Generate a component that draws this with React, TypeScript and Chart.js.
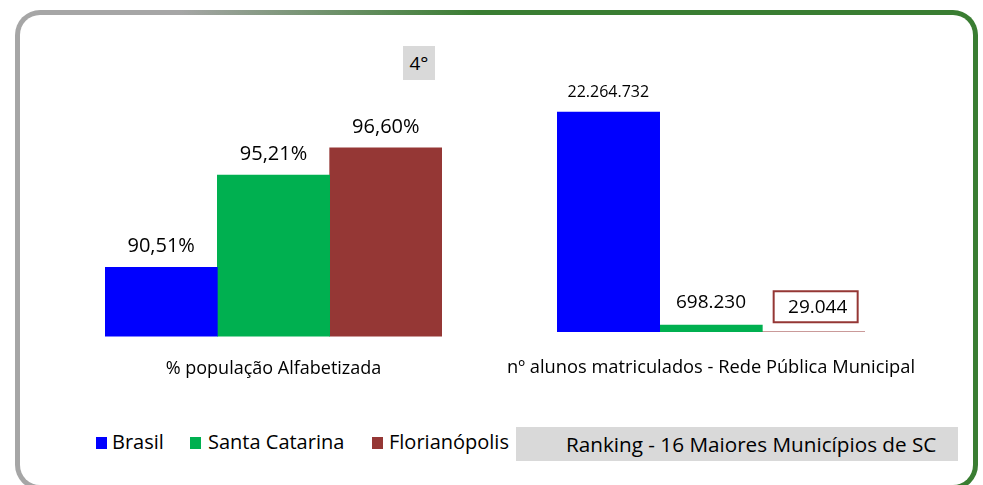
import React, { useEffect, useRef } from "react";
import { Chart, registerables } from "chart.js";

Chart.register(...registerables);

const seriesNames = ["Brasil", "Santa Catarina", "Florianópolis"];
const seriesColors = ["#0000FF", "#00B050", "#953735"];

const leftCategories = ["% população Alfabetizada"];
const literacyPct = [90.51, 95.21, 96.6];
const literacyLabels = ["90,51%", "95,21%", "96,60%"];

const rightCategories = ["nº alunos matriculados - Rede Pública Municipal"];
const enrolled = [22264732, 698230, 29044];
const enrolledLabels = ["22.264.732", "698.230", "29.044"];

const rankBadge = "4°";
const rankingText = "Ranking - 16 Maiores Municípios de SC";

const FONT = "'Open Sans', 'Noto Sans', sans-serif";

type LabelStyle = { size: number; offset: number; boxed?: boolean };

function makeLabelPlugin(labels: string[], styles: LabelStyle[]) {
  return {
    id: "valueLabels",
    afterDatasetsDraw(chart: any) {
      const ctx = chart.ctx;
      ctx.save();
      chart.data.datasets.forEach((_: any, i: number) => {
        const el = chart.getDatasetMeta(i).data[0];
        if (!el) return;
        const st = styles[i];
        const x = el.x;
        const y = el.y - st.offset;
        ctx.font = `${st.size}px ${FONT}`;
        ctx.fillStyle = "#000";
        ctx.textAlign = "center";
        ctx.textBaseline = "middle";
        if (st.boxed) {
          const w = 84;
          const h = 31;
          ctx.fillStyle = "#fff";
          ctx.fillRect(x - w / 2 + 2, y - h / 2, w, h);
          ctx.strokeStyle = "#953735";
          ctx.lineWidth = 2;
          ctx.strokeRect(x - w / 2 + 2, y - h / 2, w, h);
          ctx.fillStyle = "#000";
          ctx.fillText(labels[i], x + 4, y + 1);
        } else {
          ctx.fillText(labels[i], x, y);
        }
      });
      ctx.restore();
    },
  };
}

function BarChart(props: {
  categories: string[];
  values: number[];
  labels: string[];
  styles: LabelStyle[];
  min: number;
  max: number;
  padding: { left: number; right: number; top: number; bottom: number };
  tickGap: number;
  tickSize: number;
  left: number;
  width: number;
  height: number;
}) {
  const ref = useRef<HTMLCanvasElement>(null);
  useEffect(() => {
    if (!ref.current) return;
    const chart = new Chart(ref.current, {
      type: "bar",
      data: {
        labels: props.categories,
        datasets: seriesNames.map((name, i) => ({
          label: name,
          data: [props.values[i]],
          backgroundColor: seriesColors[i],
          borderWidth: 0,
          categoryPercentage: 1,
          barPercentage: 1,
        })),
      },
      options: {
        animation: false,
        responsive: false,
        maintainAspectRatio: false,
        layout: { padding: props.padding },
        plugins: { legend: { display: false }, tooltip: { enabled: false } },
        scales: {
          x: {
            grid: { display: false, drawTicks: true, tickLength: props.tickGap },
            border: { display: false },
            ticks: {
              color: "#000",
              font: { family: FONT, size: props.tickSize },
              padding: 2,
              maxRotation: 0,
              minRotation: 0,
              autoSkip: false,
            },
          },
          y: {
            display: false,
            min: props.min,
            max: props.max,
          },
        },
      },
      plugins: [makeLabelPlugin(props.labels, props.styles)],
    });
    return () => chart.destroy();
  }, []);
  return (
    <canvas
      ref={ref}
      width={props.width}
      height={props.height}
      style={{ position: "absolute", left: props.left, top: 0, width: props.width, height: props.height }}
    />
  );
}

export default function App() {
  const legendItems = [
    { sq: 96, tx: 112 },
    { sq: 190, tx: 208 },
    { sq: 372, tx: 389 },
  ];
  return (
    <div style={{ position: "fixed", left: 0, top: 0, width: 983, height: 485, overflow: "hidden", background: "#fff", fontFamily: FONT }}>
      <div
        style={{
          position: "absolute",
          left: 15,
          top: 10,
          width: 963,
          height: 480,
          borderRadius: 25,
          background: "linear-gradient(to right, #A6A6A6 0%, #A6A6A6 17%, #3A7D32 48%, #3A7D32 100%)",
        }}
      >
        <div style={{ position: "absolute", left: 5, top: 5, right: 5, bottom: 5, borderRadius: 20, background: "#fff" }} />
      </div>

      <BarChart
        categories={leftCategories}
        values={literacyPct}
        labels={literacyLabels}
        styles={[{ size: 20, offset: 21 }, { size: 20, offset: 21 }, { size: 20, offset: 21 }]}
        min={87}
        max={100}
        padding={{ left: 65, right: 58, top: 81, bottom: 0 }}
        tickGap={20}
        tickSize={18}
        left={40}
        width={460}
        height={382}
      />
      <BarChart
        categories={rightCategories}
        values={enrolled}
        labels={enrolledLabels}
        styles={[{ size: 16, offset: 20 }, { size: 19, offset: 23 }, { size: 19, offset: 25, boxed: true }]}
        min={0}
        max={25000000}
        padding={{ left: 130, right: 118, top: 85, bottom: 0 }}
        tickGap={23}
        tickSize={18.3}
        left={427}
        width={556}
        height={381}
      />

      <div
        style={{
          position: "absolute",
          left: 403,
          top: 46,
          width: 32,
          height: 34,
          background: "#D9D9D9",
          display: "flex",
          alignItems: "center",
          justifyContent: "center",
          fontSize: 19,
          color: "#000",
        }}
      >
        {rankBadge}
      </div>

      {seriesNames.map((name, i) => (
        <React.Fragment key={name}>
          <div style={{ position: "absolute", left: legendItems[i].sq, top: 437, width: 11, height: 12, background: seriesColors[i] }} />
          <div style={{ position: "absolute", left: legendItems[i].tx, top: 429, fontSize: 20, lineHeight: "26px", color: "#000", whiteSpace: "nowrap" }}>
            {name}
          </div>
        </React.Fragment>
      ))}

      <div
        style={{
          position: "absolute",
          left: 516,
          top: 427,
          width: 442,
          height: 34,
          background: "#D9D9D9",
          boxSizing: "border-box",
          paddingLeft: 50,
          fontSize: 20.7,
          lineHeight: "34px",
          color: "#000",
          whiteSpace: "nowrap",
        }}
      >
        {rankingText}
      </div>
    </div>
  );
}
